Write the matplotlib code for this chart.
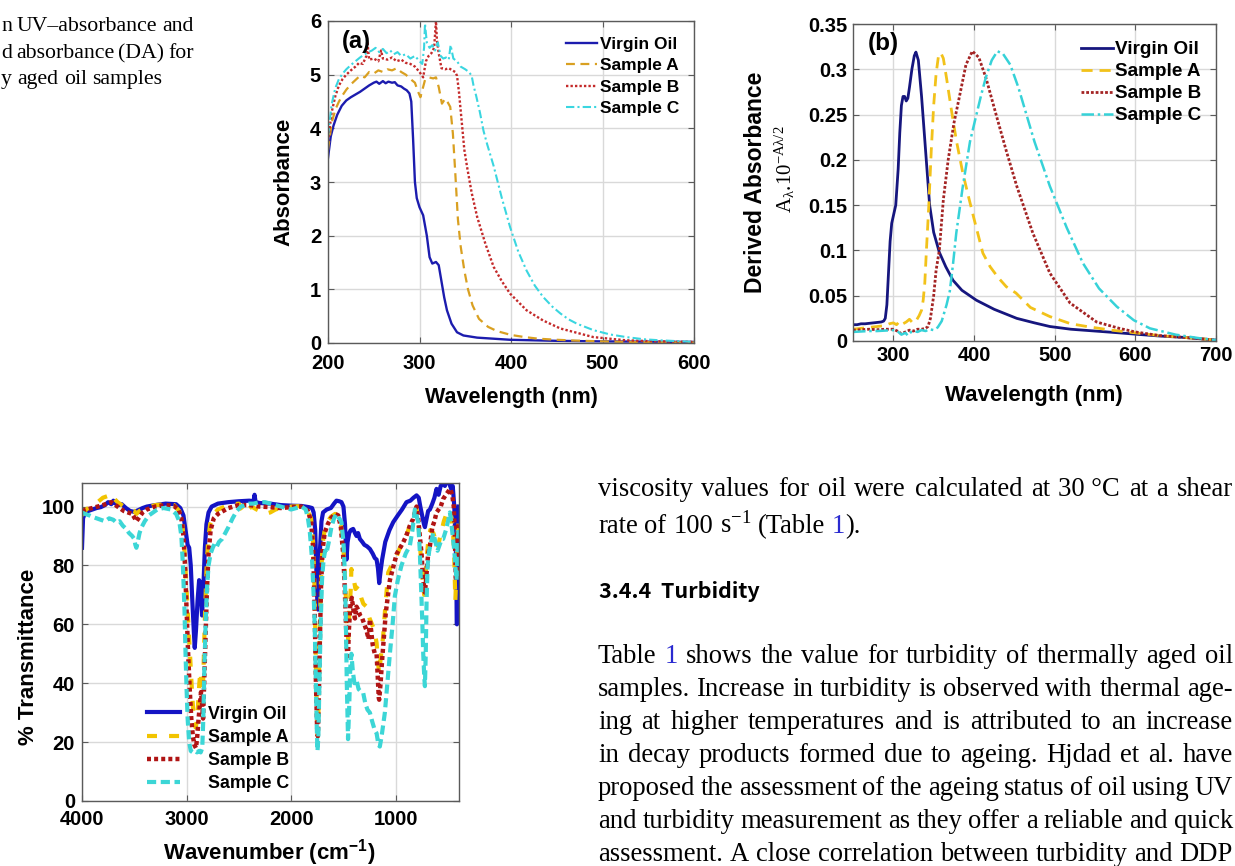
import re
import matplotlib
matplotlib.use("Agg")
import matplotlib.pyplot as plt
from matplotlib.transforms import IdentityTransform

# ---------------------------------------------------------------- data
series_names = ["Virgin Oil", "Sample A", "Sample B", "Sample C"]

# (a) UV absorbance: (wavelength nm, absorbance)
uv_virgin = [(200, 3.45), (203, 3.85), (206, 4.05), (210, 4.25), (215, 4.42), (220, 4.52),
             (225, 4.58), (230, 4.63), (235, 4.68), (240, 4.74), (245, 4.80), (250, 4.85),
             (253, 4.87), (256, 4.83), (260, 4.88), (263, 4.84), (266, 4.87), (270, 4.85),
             (273, 4.86), (276, 4.80), (280, 4.78), (283, 4.74), (286, 4.71), (289, 4.65),
             (291, 4.50), (293, 3.80), (295, 3.00), (297, 2.70), (300, 2.53), (304, 2.38),
             (308, 2.00), (311, 1.60), (314, 1.48), (318, 1.51), (321, 1.45), (324, 1.15),
             (327, 0.85), (330, 0.61), (335, 0.36), (341, 0.20), (348, 0.14), (363, 0.10),
             (399, 0.06), (450, 0.04), (500, 0.03), (600, 0.02)]
uv_sample_a = [(200, 3.60), (204, 4.10), (208, 4.35), (212, 4.50), (216, 4.62), (220, 4.72),
               (225, 4.82), (230, 4.90), (235, 4.98), (240, 4.95), (245, 5.05), (250, 5.02),
               (255, 5.08), (260, 5.05), (265, 5.10), (270, 5.08), (275, 5.12), (280, 5.05),
               (285, 5.00), (290, 4.92), (295, 4.85), (298, 4.70), (301, 4.58), (306, 4.90),
               (310, 4.95), (315, 4.93), (318, 4.95), (321, 4.77), (324.5, 4.46), (328, 4.55),
               (331, 4.48), (333.6, 4.40), (336.5, 3.90), (339, 3.20), (342, 2.30), (345, 1.80),
               (349, 1.35), (353, 1.00), (358, 0.70), (365, 0.45), (375, 0.30), (385, 0.22),
               (400, 0.15), (415, 0.11), (430, 0.08), (450, 0.06), (470, 0.045), (500, 0.03),
               (530, 0.02), (560, 0.015), (600, 0.01)]
uv_sample_b = [(200, 3.75), (204, 4.30), (208, 4.60), (212, 4.80), (216, 4.92), (220, 5.00),
               (225, 5.08), (230, 5.15), (234, 5.22), (238, 5.20), (242, 5.35), (243, 5.62),
               (245, 5.28), (250, 5.30), (255, 5.25), (258, 5.45), (260, 5.30), (265, 5.28),
               (270, 5.32), (275, 5.25), (280, 5.28), (285, 5.22), (290, 5.20), (295, 5.15),
               (300, 5.05), (304, 4.95), (307, 5.25), (310, 5.35), (313, 5.40), (316, 5.50),
               (318, 6.00), (319, 5.65), (321, 5.40), (324, 5.12), (328, 5.10), (332, 5.12),
               (336, 5.08), (339, 5.05), (341, 4.98), (343, 4.70), (346, 4.15), (349, 3.60),
               (352, 3.28), (357, 2.80), (363, 2.35), (372, 1.85), (381, 1.42), (390, 1.15),
               (399, 0.92), (417, 0.61), (435, 0.42), (454, 0.27), (490, 0.11), (526, 0.05),
               (560, 0.03), (600, 0.02)]
uv_sample_c = [(200, 3.85), (204, 4.45), (208, 4.75), (212, 4.92), (216, 5.02), (220, 5.10),
               (225, 5.18), (230, 5.25), (235, 5.32), (240, 5.38), (244, 5.42), (248, 5.45),
               (252, 5.50), (256, 5.42), (260, 5.48), (264, 5.40), (268, 5.45), (272, 5.38),
               (276, 5.42), (280, 5.35), (285, 5.38), (290, 5.30), (295, 5.35), (300, 5.25),
               (303, 5.20), (305, 5.50), (306, 5.95), (308, 5.60), (311, 5.50), (314, 5.55),
               (317, 5.45), (320, 5.60), (323, 5.35), (326, 5.30), (329, 5.32), (332, 5.28),
               (334, 5.55), (337, 5.30), (341, 5.25), (345, 5.15), (350, 5.10), (354, 5.05),
               (357, 4.98), (359, 4.80), (362, 4.60), (366, 4.30), (370, 3.95), (374, 3.70),
               (381, 3.30), (390, 2.70), (399, 2.16), (408, 1.70), (417, 1.35), (426, 1.07),
               (435, 0.86), (445, 0.68), (454, 0.55), (463, 0.44), (472, 0.36), (490, 0.24),
               (508, 0.16), (526, 0.11), (545, 0.07), (563, 0.05), (600, 0.02)]

# (b) derived absorbance: (wavelength nm, DA)
da_virgin = [(250, 0.018), (255, 0.018), (260, 0.019), (265, 0.019), (270, 0.0195), (275, 0.020),
             (280, 0.0205), (285, 0.021), (288, 0.022), (290, 0.025), (292, 0.040), (294, 0.075),
             (296, 0.110), (298, 0.130), (300, 0.138), (303, 0.150), (306, 0.190), (308, 0.230),
             (310, 0.260), (312, 0.270), (314, 0.270), (316, 0.265), (318, 0.268), (320, 0.280),
             (323, 0.300), (326, 0.315), (328, 0.319), (331, 0.310), (335, 0.270), (340, 0.210),
             (345, 0.150), (350, 0.120), (357, 0.098), (365, 0.082), (374, 0.067), (385, 0.056),
             (403, 0.045), (425, 0.035), (453, 0.025), (475, 0.020), (494, 0.016), (520, 0.013),
             (550, 0.011), (580, 0.009), (602, 0.0074), (630, 0.0055), (660, 0.004), (700, 0.001)]
da_sample_a = [(250, 0.013), (260, 0.014), (270, 0.015), (280, 0.016), (290, 0.017), (295, 0.019),
               (300, 0.020), (304, 0.018), (308, 0.022), (312, 0.019), (316, 0.021), (320, 0.024),
               (324, 0.020), (328, 0.022), (332, 0.028), (335, 0.034), (337, 0.045), (339, 0.064),
               (341, 0.100), (344, 0.150), (347, 0.210), (350, 0.260), (353, 0.295), (356, 0.315),
               (359, 0.318), (362, 0.312), (366, 0.290), (372, 0.255), (378, 0.222), (386, 0.186),
               (393, 0.160), (400, 0.135), (411, 0.097), (420, 0.082), (430, 0.070), (440, 0.060),
               (452, 0.053), (470, 0.037), (494, 0.027), (520, 0.019), (540, 0.016), (570, 0.012),
               (600, 0.009), (630, 0.006), (660, 0.004), (700, 0.001)]
da_sample_b = [(250, 0.012), (260, 0.0125), (270, 0.013), (280, 0.0125), (290, 0.013), (300, 0.013),
               (305, 0.011), (310, 0.008), (315, 0.010), (320, 0.012), (325, 0.011), (330, 0.013),
               (335, 0.013), (340, 0.014), (343, 0.016), (346, 0.025), (350, 0.050), (353, 0.078),
               (357, 0.100), (362, 0.156), (368, 0.200), (375, 0.240), (382, 0.270), (390, 0.305),
               (398, 0.320), (406, 0.313), (415, 0.290), (428, 0.248), (440, 0.210), (453, 0.171),
               (473, 0.119), (494, 0.075), (519, 0.042), (552, 0.021), (580, 0.014), (600, 0.010),
               (630, 0.006), (660, 0.004), (700, 0.001)]
da_sample_c = [(250, 0.010), (260, 0.0105), (270, 0.011), (280, 0.011), (290, 0.0115), (300, 0.012),
               (305, 0.011), (310, 0.007), (315, 0.009), (318, 0.006), (322, 0.010), (326, 0.011),
               (330, 0.010), (335, 0.012), (340, 0.011), (345, 0.013), (350, 0.012), (355, 0.015),
               (360, 0.022), (366, 0.040), (370, 0.055), (374, 0.085), (378, 0.119), (386, 0.170),
               (395, 0.220), (403, 0.250), (409, 0.272), (415, 0.292), (422, 0.310), (429, 0.320),
               (436, 0.317), (445, 0.305), (455, 0.280), (465, 0.250), (475, 0.220), (494, 0.171),
               (515, 0.125), (535, 0.086), (555, 0.058), (577, 0.038), (598, 0.023), (618, 0.014),
               (650, 0.007), (680, 0.003), (700, 0.001)]

# (c) FTIR: (wavenumber cm-1, % transmittance)
ir_virgin = [(4000, 86), (3990, 96), (3970, 98), (3940, 98.5), (3900, 99), (3860, 99.5),
             (3820, 99.8), (3780, 100.5), (3750, 101.5), (3720, 100.8), (3700, 102), (3680, 101),
             (3650, 100.5), (3620, 100.8), (3580, 99.5), (3540, 98.5), (3500, 98.2), (3460, 98.8),
             (3420, 99.5), (3380, 100), (3300, 100.5), (3200, 101), (3100, 100.8), (3060, 99.5),
             (3030, 97), (3010, 92), (2990, 87), (2975, 86), (2960, 80), (2945, 68), (2930, 57),
             (2922, 52), (2910, 58), (2895, 68), (2880, 75), (2870, 74), (2860, 68), (2852, 63),
             (2840, 72), (2825, 86), (2810, 94), (2790, 98), (2760, 100), (2700, 101),
             (2600, 101.5), (2500, 101.8), (2400, 102), (2360, 101.8), (2350, 104), (2340, 101.5),
             (2300, 101.2), (2200, 101), (2100, 100.5), (2000, 100.3), (1900, 100.2), (1830, 99.8),
             (1800, 99.5), (1785, 98), (1770, 92), (1760, 80), (1750, 68), (1743, 65), (1735, 72),
             (1725, 85), (1710, 95), (1695, 98), (1660, 99), (1620, 99.5), (1590, 101), (1567, 102),
             (1540, 101.8), (1519, 101.5), (1500, 100), (1485, 94), (1471, 82), (1460, 88),
             (1445, 91), (1430, 92), (1407, 92.4), (1390, 91), (1375, 90), (1360, 91), (1343, 89),
             (1320, 88), (1300, 87), (1275, 86.5), (1247, 85.6), (1220, 84), (1200, 82.5),
             (1183, 82), (1170, 79), (1158, 74), (1145, 78), (1130, 82), (1120, 84), (1100, 88),
             (1060, 92), (1024, 94.7), (980, 97), (940, 99), (897, 101.5), (860, 102), (830, 103),
             (801, 103.8), (780, 103), (765, 100), (753, 98), (740, 96), (730, 94), (721, 93),
             (710, 95), (700, 97), (690, 98.5), (673, 99), (650, 101), (630, 103), (610, 106),
             (590, 104), (570, 107), (546, 108), (530, 107), (510, 109), (490, 108), (470, 106),
             (455, 107), (440, 100), (425, 85), (415, 60), (408, 95), (400, 100)]
ir_sample_a = [(4000, 97), (3960, 99), (3900, 100.5), (3850, 101.5), (3800, 103), (3760, 103.5),
               (3730, 104.5), (3700, 103), (3660, 101.5), (3620, 100.5), (3580, 99.5), (3540, 99),
               (3500, 98.5), (3480, 97.5), (3450, 98.5), (3400, 99.5), (3300, 100.5), (3200, 100.8),
               (3120, 100.5), (3070, 98.5), (3040, 94), (3020, 85), (3005, 75), (2990, 65),
               (2975, 55), (2960, 45), (2945, 35), (2930, 28), (2915, 25), (2900, 27), (2890, 33),
               (2878, 40), (2868, 44), (2858, 40), (2848, 33), (2838, 45), (2825, 62), (2810, 78),
               (2795, 88), (2775, 94), (2740, 97.5), (2700, 99), (2600, 100.5), (2500, 101),
               (2470, 99), (2440, 97.5), (2410, 99), (2380, 100), (2330, 99), (2300, 98.5),
               (2250, 97.5), (2200, 98), (2150, 99), (2100, 99.5), (2000, 100), (1900, 100.2),
               (1850, 99), (1810, 96), (1790, 88), (1775, 70), (1763, 45), (1752, 28), (1745, 22),
               (1738, 32), (1728, 55), (1715, 75), (1700, 87), (1680, 92), (1650, 95), (1620, 96.5),
               (1580, 97.5), (1550, 97), (1525, 94), (1505, 88), (1490, 80), (1478, 70), (1468, 60),
               (1455, 55), (1445, 63), (1430, 72), (1424, 78.8), (1400, 75), (1385, 72), (1360, 73),
               (1330, 69), (1310, 67), (1279, 66), (1250, 62), (1215, 59), (1195, 56), (1183, 53.7),
               (1170, 47), (1158, 43.5), (1145, 48), (1120, 56), (1100, 66), (1072, 77.6),
               (1040, 80), (992, 83), (960, 86), (930, 88), (900, 90), (860, 94), (830, 97),
               (800, 99), (785, 95), (770, 88), (755, 80), (740, 74), (728, 70), (718, 74),
               (705, 82), (690, 88), (670, 92), (640, 91), (615, 88), (600, 86), (580, 89),
               (560, 92), (540, 95), (520, 97), (500, 99), (480, 98), (465, 96), (450, 90),
               (440, 82), (430, 68), (420, 78), (410, 90), (400, 95)]
ir_sample_b = [(4000, 98.5), (3960, 99), (3900, 99.5), (3850, 100), (3800, 100.5), (3760, 101),
               (3720, 101.5), (3680, 100.5), (3640, 99.5), (3600, 98.5), (3560, 98), (3520, 97.5),
               (3495, 96), (3480, 95), (3460, 96), (3420, 98), (3380, 99), (3300, 100),
               (3200, 100.5), (3120, 100.2), (3080, 99), (3050, 96), (3030, 90), (3015, 80),
               (3000, 65), (2985, 50), (2970, 38), (2955, 28), (2940, 22), (2925, 19), (2910, 18),
               (2898, 22), (2885, 28), (2872, 33), (2862, 37), (2852, 33), (2842, 28), (2832, 40),
               (2820, 55), (2805, 72), (2790, 84), (2770, 92), (2740, 96), (2700, 97.5),
               (2650, 98.5), (2600, 99.5), (2500, 100.5), (2400, 100.5), (2300, 100), (2200, 99.8),
               (2100, 99.5), (2000, 99.8), (1900, 100), (1840, 98.5), (1810, 95), (1790, 86),
               (1775, 65), (1763, 40), (1752, 25), (1745, 22), (1738, 30), (1728, 50), (1715, 72),
               (1700, 85), (1680, 91), (1650, 94), (1620, 96), (1580, 97.5), (1550, 97),
               (1525, 93), (1505, 85), (1490, 75), (1478, 62), (1468, 52), (1458, 48), (1448, 58),
               (1435, 66), (1420, 69), (1405, 65), (1390, 62), (1375, 66), (1360, 65), (1340, 63),
               (1320, 62), (1300, 60), (1280, 58), (1260, 55), (1247, 61.7), (1220, 53),
               (1200, 50), (1183, 50), (1172, 42), (1162, 35), (1158, 34.4), (1145, 40),
               (1130, 48), (1120, 52.6), (1095, 64), (1056, 75), (1020, 80), (990, 84),
               (929, 87.8), (900, 90), (860, 94), (833, 95.8), (801, 100), (785, 96), (770, 90),
               (753, 84), (740, 76), (721, 70.8), (710, 75), (690, 84), (673, 86.7), (650, 93),
               (630, 95), (610, 98), (590, 99), (570, 100), (546, 102.6), (520, 104), (500, 105),
               (480, 106), (460, 104), (445, 100), (435, 90), (425, 75), (415, 80), (405, 90),
               (400, 95)]
ir_sample_c = [(4000, 98), (3970, 97.5), (3930, 97), (3900, 96.5), (3860, 96), (3820, 95.5),
               (3780, 95), (3740, 96), (3700, 95.5), (3670, 94.5), (3640, 95), (3610, 93.5),
               (3580, 92.5), (3550, 91), (3520, 90), (3500, 89), (3490, 87), (3480, 86),
               (3470, 87.5), (3450, 91), (3430, 93), (3400, 95), (3360, 97), (3320, 98),
               (3280, 99), (3220, 99.5), (3150, 99), (3100, 97.5), (3070, 95), (3050, 90),
               (3035, 80), (3020, 65), (3010, 50), (3000, 38), (2990, 28), (2975, 20), (2960, 17),
               (2940, 16.5), (2920, 17), (2900, 16.5), (2880, 17), (2865, 16.5), (2850, 18),
               (2840, 28), (2830, 45), (2818, 60), (2805, 72), (2790, 80), (2770, 84), (2750, 86),
               (2730, 87.5), (2710, 86.5), (2690, 88), (2660, 89), (2630, 91), (2600, 93),
               (2560, 96), (2520, 98.5), (2480, 100), (2440, 100.5), (2400, 101), (2360, 101),
               (2300, 101.5), (2250, 101.5), (2200, 101), (2150, 100.5), (2100, 100), (2050, 99.5),
               (2000, 99), (1950, 99.5), (1900, 100), (1860, 99), (1840, 96), (1823, 92),
               (1800, 82), (1785, 70), (1775, 60), (1765, 42), (1755, 25), (1748, 17), (1740, 22),
               (1730, 40), (1718, 60), (1705, 75), (1690, 82), (1675, 85), (1663, 84), (1640, 88),
               (1615, 93), (1590, 96), (1567, 97.5), (1540, 96), (1519, 94.7), (1500, 88),
               (1490, 80), (1478, 64), (1468, 40), (1456, 21), (1445, 32), (1435, 45), (1424, 50),
               (1410, 44), (1395, 40), (1375, 41), (1355, 38), (1330, 37), (1311, 36.7),
               (1290, 33), (1270, 31), (1247, 30), (1225, 27), (1200, 24), (1183, 23), (1165, 19),
               (1152, 18.5), (1135, 22), (1120, 26), (1104, 30), (1080, 40), (1056, 50),
               (1030, 60), (1008, 69.7), (980, 75), (945, 80), (905, 84), (865, 86.7), (840, 92),
               (817, 99), (800, 97), (785, 94.7), (770, 85), (755, 70), (745, 60), (737, 50),
               (727, 42), (721, 39), (713, 50), (705, 68), (695, 80), (680, 85), (660, 88),
               (641, 91), (620, 88), (600, 85), (580, 87), (560, 89), (546, 89), (520, 92),
               (500, 95), (482, 98), (470, 95), (455, 90), (440, 85), (430, 80), (418, 75),
               (408, 88), (400, 92)]

# ticks
a_xticks = [200, 300, 400, 500, 600]
a_yticks = [0, 1, 2, 3, 4, 5, 6]
b_xticks = [300, 400, 500, 600, 700]
b_yticks = [0, 0.05, 0.1, 0.15, 0.2, 0.25, 0.3, 0.35]
b_yticklabels = ["0", "0.05", "0.1", "0.15", "0.2", "0.25", "0.3", "0.35"]
c_xticks = [4000, 3000, 2000, 1000]
c_yticks = [0, 20, 40, 60, 80, 100]

# page text  (<<...>> marks a blue link)
caption_lines = ["n UV\u2013absorbance and", "d absorbance (DA) for", "y aged oil samples"]
body_top_lines = ["viscosity values for oil were calculated at 30\u00a0\u00b0C at a shear",
                  "rate of 100 s$^{\u22121}$ (Table <<1>>)."]
heading_text = "3.4.4  Turbidity"
body_lines = ["Table <<1>> shows the value for turbidity of thermally aged oil",
              "samples. Increase in turbidity is observed with thermal age-",
              "ing at higher temperatures and is attributed to an increase",
              "in decay products formed due to ageing. Hjdad et al. have",
              "proposed the assessment of the ageing status of oil using UV",
              "and turbidity measurement as they offer a reliable and quick",
              "assessment. A close correlation between turbidity and DDP"]

# ---------------------------------------------------------------- style
plt.rcParams['font.family'] = ['Liberation Sans', 'DejaVu Sans']
plt.rcParams['font.weight'] = 'bold'
plt.rcParams['mathtext.default'] = 'regular'

W, H = 1235, 866
fig = plt.figure(figsize=(W / 100, H / 100), dpi=100, facecolor='white')
PX = IdentityTransform()


def px_axes(l, t, r, b):
    return fig.add_axes([l / W, 1 - b / H, (r - l) / W, (b - t) / H])


def style_axes(ax, fs, xpad, ypad):
    ax.grid(True, color='#d9d9d9', lw=1.0)
    ax.set_axisbelow(True)
    for s in ax.spines.values():
        s.set_color('#5a5a5a')
        s.set_linewidth(1.0)
    ax.tick_params(direction='in', length=4, width=0.8, color='#5a5a5a',
                   top=True, right=True, labelsize=fs)
    ax.tick_params(axis='x', pad=xpad)
    ax.tick_params(axis='y', pad=ypad)
    for lab in ax.get_xticklabels() + ax.get_yticklabels():
        lab.set_fontweight('bold')


def xy(pairs):
    return [p[0] for p in pairs], [p[1] for p in pairs]


# ------------------------------------------------------------ panel (a)
ax_a = px_axes(328, 21, 694, 343)
cols_a = ['#1c1cae', '#d9a021', '#c42a2a', '#3ad6e0']
styles_a = ['-', (0, (4, 2.5)), (0, (1, 0.9)), (0, (4, 1.5, 1, 1.5))]
lws_a = [1.7, 1.6, 1.7, 1.5]
for data, c, ls, lw, name in zip([uv_virgin, uv_sample_a, uv_sample_b, uv_sample_c],
                                 cols_a, styles_a, lws_a, series_names):
    x, y = xy(data)
    ax_a.plot(x, y, color=c, ls=ls, lw=lw, label=name)
ax_a.set_xlim(200, 600)
ax_a.set_ylim(0, 6)
ax_a.set_xticks(a_xticks)
ax_a.set_yticks(a_yticks)
style_axes(ax_a, 14.5, 7.8, 5)
ax_a.legend(loc='upper left', bbox_to_anchor=(0.650, 0.951), frameon=False,
            prop={'weight': 'bold', 'size': 12.5}, borderpad=0, borderaxespad=0,
            handlelength=1.78, handletextpad=0.17, labelspacing=0.36)
ax_a.text(0.037, 0.936, "(a)", transform=ax_a.transAxes, fontsize=17,
          fontweight='bold', ha='left', va='center')

# ------------------------------------------------------------ panel (b)
ax_b = px_axes(853, 24, 1216, 341)
cols_b = ['#16167e', '#f2c21a', '#a42424', '#36d2d8']
styles_b = ['-', (0, (4, 2.5)), (0, (1, 0.7)), (0, (5, 1.5, 1, 1.5))]
lws_b = [2.0, 2.0, 2.0, 1.8]
for data, c, ls, lw, name in zip([da_virgin, da_sample_a, da_sample_b, da_sample_c],
                                 cols_b, styles_b, lws_b, series_names):
    x, y = xy(data)
    ax_b.plot(x, y, color=c, ls=ls, lw=lw, label=name)
ax_b.set_xlim(250, 700)
ax_b.set_ylim(0, 0.35)
ax_b.set_xticks(b_xticks)
ax_b.set_yticks(b_yticks)
ax_b.set_yticklabels(b_yticklabels)
style_axes(ax_b, 14.5, 3.9, 4.3)
ax_b.legend(loc='upper left', bbox_to_anchor=(0.628, 0.946), frameon=False,
            prop={'weight': 'bold', 'size': 13.6}, borderpad=0, borderaxespad=0,
            handlelength=1.7, handletextpad=0.1, labelspacing=0.25)
ax_b.text(0.041, 0.939, "(b)", transform=ax_b.transAxes, fontsize=17.5,
          fontweight='bold', ha='left', va='center')

# ------------------------------------------------------------ panel (c)
ax_c = px_axes(82, 483, 459, 801)
cols_c = ['#1414c4', '#f2c400', '#b01414', '#3cd6d6']
styles_c = ['-', (0, (2.4, 2.9)), (0, (0.9, 0.7)), (0, (2.2, 1.1))]
lws_c = [3.0, 3.0, 3.2, 3.0]
for data, c, ls, lw, name in zip([ir_virgin, ir_sample_a, ir_sample_b, ir_sample_c],
                                 cols_c, styles_c, lws_c, series_names):
    x, y = xy(data)
    ax_c.plot(x, y, color=c, ls=ls, lw=lw, label=name)
ax_c.set_xlim(4000, 395)
ax_c.set_ylim(0, 108)
ax_c.set_xticks(c_xticks)
ax_c.set_yticks(c_yticks)
style_axes(ax_c, 14.5, 6.8, 5)
ax_c.legend(loc='upper left', bbox_to_anchor=(0.172, 0.300), frameon=False,
            prop={'weight': 'bold', 'size': 12.8}, borderpad=0, borderaxespad=0,
            handlelength=1.85, handletextpad=1.57, labelspacing=0.35)

# ------------------------------------------------------------ axis labels
def ptext(x, y, s, **kw):
    return fig.text(x, H - y, s, transform=PX, **kw)

ptext(511, 397, "Wavelength (nm)", fontsize=15.5, fontweight='bold', ha='center', va='center')
ptext(284, 182, "Absorbance", fontsize=16, fontweight='bold', ha='center', va='center', rotation=90)
ptext(1034, 395, "Wavelength (nm)", fontsize=16, fontweight='bold', ha='center', va='center')
ptext(756, 182, "Derived Absorbance", fontsize=16.5, fontweight='bold', ha='center', va='center',
      rotation=90)
ptext(785, 169, "A$_{\u03bb}$.10$^{-A\u03bb/2}$", fontsize=15, fontweight='normal',
      family=['Liberation Serif', 'DejaVu Serif'], ha='center', va='center', rotation=90)
ptext(269, 853, "Wavenumber (cm$^{-1}$)", fontsize=16, fontweight='bold', ha='center', va='center')
ptext(29, 657, "% Transmittance", fontsize=16, fontweight='bold', ha='center', va='center',
      rotation=90)

# ------------------------------------------------------------ page text
LINK = '#2a2ad0'
renderer = fig.canvas.get_renderer()
SERIF = ['Liberation Serif', 'DejaVu Serif']


def parse_words(line):
    words = []
    for w in line.split(' '):
        pcs = []
        for p in re.split(r'(<<[^>]*>>)', w):
            if not p:
                continue
            if p.startswith('<<'):
                pcs.append((p[2:-2], LINK))
            else:
                pcs.append((p, 'black'))
        words.append(pcs)
    return words


def natural_width(line, fs, family, weight):
    t = fig.text(0, 0, line.replace('<<', '').replace('>>', ''), fontsize=fs, family=family,
                 fontweight=weight, transform=PX)
    w = t.get_window_extent(renderer).width
    t.remove()
    return w


def fit_size(lines, target, family, weight, base=16.0):
    widest = max(natural_width(l, base, family, weight) for l in lines)
    return base * target / widest


def draw_lines(lines, x0, x1, baselines, justify, fs, family, weight='normal'):
    space = fs * 100 / 72 * 0.25
    for line, yb, just in zip(lines, baselines, justify):
        placed = []
        for pcs in parse_words(line):
            off = 0
            arts = []
            for txt, col in pcs:
                t = fig.text(0, 0, txt, fontsize=fs, family=family, fontweight=weight,
                             color=col, transform=PX, ha='left', va='baseline')
                arts.append((t, off))
                off += t.get_window_extent(renderer).width
            placed.append((arts, off))
        total = sum(w for _, w in placed)
        gap = (x1 - x0 - total) / (len(placed) - 1) if (just and len(placed) > 1) else space
        x = x0
        for arts, w in placed:
            for t, off in arts:
                t.set_position((x + off, H - yb))
            x += w + gap


# caption (top-left)
cap_fs = fit_size(caption_lines[:2], 197, SERIF, 'normal')
draw_lines(caption_lines, 1, 194, [31, 58, 84], [True, True, False], cap_fs, SERIF)

# body text (right)
body_fs = fit_size(body_lines + body_top_lines[:1], 648, SERIF, 'normal')
draw_lines(body_top_lines, 598, 1233, [496, 533], [True, False], body_fs, SERIF)
draw_lines(body_lines, 598, 1233, [663, 696, 729, 762, 795, 828, 861], [True] * 7, body_fs, SERIF)

# heading
head_family = ['Noto Sans CJK KR', 'DejaVu Sans']
head_fs = fit_size([heading_text], 161, head_family, 'bold')
ptext(599, 598, heading_text, fontsize=head_fs, family=head_family, fontweight='bold',
      ha='left', va='baseline')

fig.savefig("out.png", dpi=100, facecolor='white')
